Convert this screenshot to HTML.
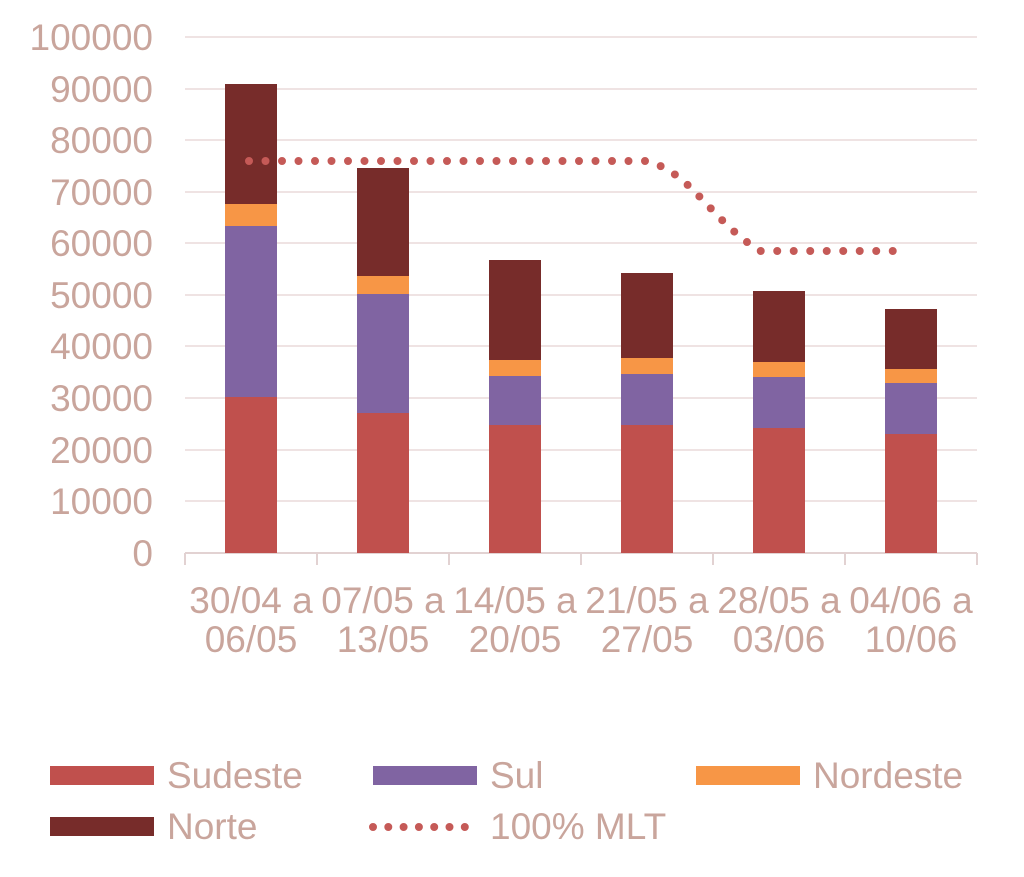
<!DOCTYPE html>
<html><head><meta charset="utf-8"><style>
html,body{margin:0;padding:0;background:#fff;}
svg{display:block;font-family:"Liberation Sans",sans-serif;}
</style></head><body>
<svg width="1024" height="877" viewBox="0 0 1024 877" xmlns="http://www.w3.org/2000/svg">
<g stroke="#efe3e3" stroke-width="2">
<line x1="185" x2="977" y1="37" y2="37"/><line x1="185" x2="977" y1="89" y2="89"/>
<line x1="185" x2="977" y1="140" y2="140"/><line x1="185" x2="977" y1="192" y2="192"/>
<line x1="185" x2="977" y1="243" y2="243"/><line x1="185" x2="977" y1="295" y2="295"/>
<line x1="185" x2="977" y1="346" y2="346"/><line x1="185" x2="977" y1="398" y2="398"/>
<line x1="185" x2="977" y1="450" y2="450"/><line x1="185" x2="977" y1="501" y2="501"/>
</g>
<g stroke="#e2d2d2" stroke-width="2">
<line x1="185" x2="977" y1="553" y2="553"/>
<line x1="185" x2="185" y1="553" y2="565"/><line x1="317" x2="317" y1="553" y2="565"/>
<line x1="449" x2="449" y1="553" y2="565"/><line x1="581" x2="581" y1="553" y2="565"/>
<line x1="713" x2="713" y1="553" y2="565"/><line x1="845" x2="845" y1="553" y2="565"/>
<line x1="977" x2="977" y1="553" y2="565"/>
</g>
<g fill="#c9a59c" font-size="37" text-anchor="end">
<text x="153" y="50">100000</text><text x="153" y="102">90000</text><text x="153" y="153">80000</text>
<text x="153" y="205">70000</text><text x="153" y="256">60000</text><text x="153" y="308">50000</text>
<text x="153" y="359">40000</text><text x="153" y="411">30000</text><text x="153" y="463">20000</text>
<text x="153" y="514">10000</text><text x="153" y="566">0</text>
</g>
<g fill="#c9a59c" font-size="37" text-anchor="middle">
<text x="251" y="613">30/04 a</text><text x="251" y="652">06/05</text>
<text x="383" y="613">07/05 a</text><text x="383" y="652">13/05</text>
<text x="515" y="613">14/05 a</text><text x="515" y="652">20/05</text>
<text x="647" y="613">21/05 a</text><text x="647" y="652">27/05</text>
<text x="779" y="613">28/05 a</text><text x="779" y="652">03/06</text>
<text x="911" y="613">04/06 a</text><text x="911" y="652">10/06</text>
</g>
<g>
<rect x="225" y="397" width="52" height="156" fill="#c0504d"/><rect x="225" y="226" width="52" height="171" fill="#8064a2"/><rect x="225" y="204" width="52" height="22" fill="#f79646"/><rect x="225" y="84" width="52" height="120" fill="#772c2a"/>
<rect x="357" y="413" width="52" height="140" fill="#c0504d"/><rect x="357" y="294" width="52" height="119" fill="#8064a2"/><rect x="357" y="276" width="52" height="18" fill="#f79646"/><rect x="357" y="168" width="52" height="108" fill="#772c2a"/>
<rect x="489" y="425" width="52" height="128" fill="#c0504d"/><rect x="489" y="376" width="52" height="49" fill="#8064a2"/><rect x="489" y="360" width="52" height="16" fill="#f79646"/><rect x="489" y="260" width="52" height="100" fill="#772c2a"/>
<rect x="621" y="425" width="52" height="128" fill="#c0504d"/><rect x="621" y="374" width="52" height="51" fill="#8064a2"/><rect x="621" y="358" width="52" height="16" fill="#f79646"/><rect x="621" y="273" width="52" height="85" fill="#772c2a"/>
<rect x="753" y="428" width="52" height="125" fill="#c0504d"/><rect x="753" y="377" width="52" height="51" fill="#8064a2"/><rect x="753" y="362" width="52" height="15" fill="#f79646"/><rect x="753" y="291" width="52" height="71" fill="#772c2a"/>
<rect x="885" y="434" width="52" height="119" fill="#c0504d"/><rect x="885" y="383" width="52" height="51" fill="#8064a2"/><rect x="885" y="369" width="52" height="14" fill="#f79646"/><rect x="885" y="309" width="52" height="60" fill="#772c2a"/>
</g>
<path d="M249 161 L645 161 C690 170 710 220 760 251 L899 251" fill="none" stroke="#c55a57" stroke-width="8" stroke-linecap="round" stroke-dasharray="0 16.5"/>
<g fill="#c9a59c" font-size="37">
<rect x="50" y="766" width="104" height="19" fill="#c0504d"/><text x="167" y="788">Sudeste</text>
<rect x="373" y="766" width="104" height="19" fill="#8064a2"/><text x="490" y="788">Sul</text>
<rect x="696" y="766" width="104" height="19" fill="#f79646"/><text x="813" y="788">Nordeste</text>
<rect x="50" y="817" width="104" height="19" fill="#772c2a"/><text x="167" y="839">Norte</text>
<path d="M373 827 L465 827" stroke="#c55a57" stroke-width="8" stroke-linecap="round" stroke-dasharray="0 15.3"/>
<text x="490" y="839">100% MLT</text>
</g>
</svg>
</body></html>
